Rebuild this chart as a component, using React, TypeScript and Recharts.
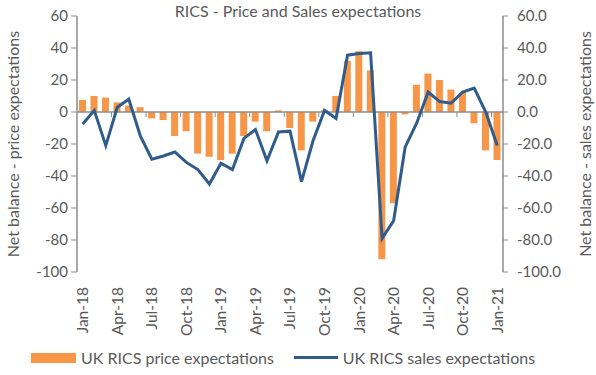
import {
  ComposedChart,
  Bar,
  Line,
  XAxis,
  YAxis,
  Legend,
  ReferenceLine,
} from "recharts";

const months = [
  "Jan-18", "Feb-18", "Mar-18", "Apr-18", "May-18", "Jun-18",
  "Jul-18", "Aug-18", "Sep-18", "Oct-18", "Nov-18", "Dec-18",
  "Jan-19", "Feb-19", "Mar-19", "Apr-19", "May-19", "Jun-19",
  "Jul-19", "Aug-19", "Sep-19", "Oct-19", "Nov-19", "Dec-19",
  "Jan-20", "Feb-20", "Mar-20", "Apr-20", "May-20", "Jun-20",
  "Jul-20", "Aug-20", "Sep-20", "Oct-20", "Nov-20", "Dec-20",
  "Jan-21",
];

// UK RICS price expectations (net balance, left axis)
const priceExpectations = [
  7.5, 10, 9, 6, 4, 3, -4, -5, -15, -12, -26, -28,
  -30, -26, -15, -6, -12, 1, -10, -24, -6, 1, 10, 32,
  38, 26, -92, -57, -1.5, 17, 24, 20, 14, 12, -7, -24,
  -30,
];

// UK RICS sales expectations (net balance, right axis)
const salesExpectations = [
  -7.5, 1, -21, 3, 8, -15, -29.5, -27.5, -25, -31.5, -36, -45,
  -32, -36, -16.5, -11, -30.5, -12.5, -12, -43.5, -18, 1, -4, 35.5,
  36.5, 37, -79, -68, -22, -7, 12.5, 6.5, 5.5, 12.5, 15, 0,
  -21,
];

const yTicks = [60, 40, 20, 0, -20, -40, -60, -80, -100];

const data = months.map((month, i) => ({
  month,
  price: priceExpectations[i],
  sales: salesExpectations[i],
}));

const FONT = "Lato, 'Liberation Sans', sans-serif";
const TEXT = "#595959";
const AXIS = "#8c8c8c";
const ORANGE = "#F79646";
const BLUE = "#2F5B8D";

function MonthTick({ x, y, payload }: any) {
  return (
    <text
      x={x}
      y={y}
      dy="0.35em"
      transform={`rotate(-90 ${x} ${y})`}
      textAnchor="end"
      fill={TEXT}
      fontSize={15.5}
      fontFamily={FONT}
    >
      {payload.value}
    </text>
  );
}

// zero line with the category tick marks every 3 months
function ZeroAxis(props: any) {
  const { x1, y1, x2, y2 } = props;
  const step = (x2 - x1) / months.length;
  const marks = [];
  for (let k = 3; k < months.length; k += 3) {
    const tx = x1 + k * step;
    marks.push(<line key={k} x1={tx} x2={tx} y1={y1} y2={y1 + 5} stroke={AXIS} strokeWidth={1} />);
  }
  return (
    <g>
      <line x1={x1} y1={y1} x2={x2} y2={y2} stroke={AXIS} strokeWidth={1.5} />
      {marks}
    </g>
  );
}

function LegendContent() {
  return (
    <div style={{ display: "flex", alignItems: "center", fontFamily: FONT, fontSize: 16, color: TEXT }}>
      <span style={{ display: "inline-block", width: 45, height: 10, background: ORANGE, marginLeft: 31, marginRight: 5 }} />
      <span>UK RICS price expectations</span>
      <span style={{ display: "inline-block", width: 44, height: 3, background: BLUE, marginLeft: 20, marginRight: 5 }} />
      <span>UK RICS sales expectations</span>
    </div>
  );
}

export default function App() {
  return (
    <div style={{ position: "absolute", left: 0, top: 0, width: 596, height: 375, background: "#fff" }}>
      <div
        style={{
          position: "absolute",
          top: 1,
          left: 0,
          width: 596,
          textAlign: "center",
          fontFamily: FONT,
          fontSize: 16,
          color: TEXT,
        }}
      >
        RICS - Price and Sales expectations
      </div>
      <ComposedChart
        width={596}
        height={375}
        data={data}
        margin={{ top: 16, right: 0, left: 0, bottom: 28 }}
        barSize={7}
      >
        <XAxis
          dataKey="month"
          interval={2}
          axisLine={false}
          tickLine={false}
          tickSize={0}
          tickMargin={15}
          height={75}
          tick={<MonthTick />}
        />
        <YAxis
          yAxisId="left"
          domain={[-100, 60]}
          ticks={yTicks}
          width={77}
          tickSize={6}
          tickMargin={3}
          axisLine={{ stroke: AXIS, strokeWidth: 1.5 }}
          tickLine={{ stroke: AXIS }}
          tick={{ fill: TEXT, fontSize: 15, fontFamily: FONT }}
          label={{
            value: "Net balance - price expectations",
            angle: -90,
            position: "insideLeft",
            offset: 13,
            style: { fill: TEXT, fontSize: 16, fontFamily: FONT, textAnchor: "middle" },
          }}
        />
        <YAxis
          yAxisId="right"
          orientation="right"
          domain={[-100, 60]}
          ticks={yTicks}
          width={93}
          tickSize={5}
          tickMargin={9}
          axisLine={{ stroke: AXIS, strokeWidth: 1.5 }}
          tickLine={{ stroke: AXIS }}
          tickFormatter={(v: number) => v.toFixed(1)}
          tick={{ fill: TEXT, fontSize: 15, fontFamily: FONT }}
          label={{
            value: "Net balance - sales expectations",
            angle: -90,
            position: "insideRight",
            offset: 11,
            style: { fill: TEXT, fontSize: 16, fontFamily: FONT, textAnchor: "middle" },
          }}
        />
        <Bar
          yAxisId="left"
          dataKey="price"
          name="UK RICS price expectations"
          fill={ORANGE}
          isAnimationActive={false}
        />
        <ReferenceLine yAxisId="left" y={0} shape={<ZeroAxis />} />
        <Line
          yAxisId="right"
          type="linear"
          dataKey="sales"
          name="UK RICS sales expectations"
          stroke={BLUE}
          strokeWidth={3}
          dot={false}
          isAnimationActive={false}
        />
        <Legend
          layout="horizontal"
          verticalAlign="middle"
          align="center"
          content={<LegendContent />}
          wrapperStyle={{ position: "absolute", top: 348, left: 0, width: 596 }}
        />
      </ComposedChart>
    </div>
  );
}
